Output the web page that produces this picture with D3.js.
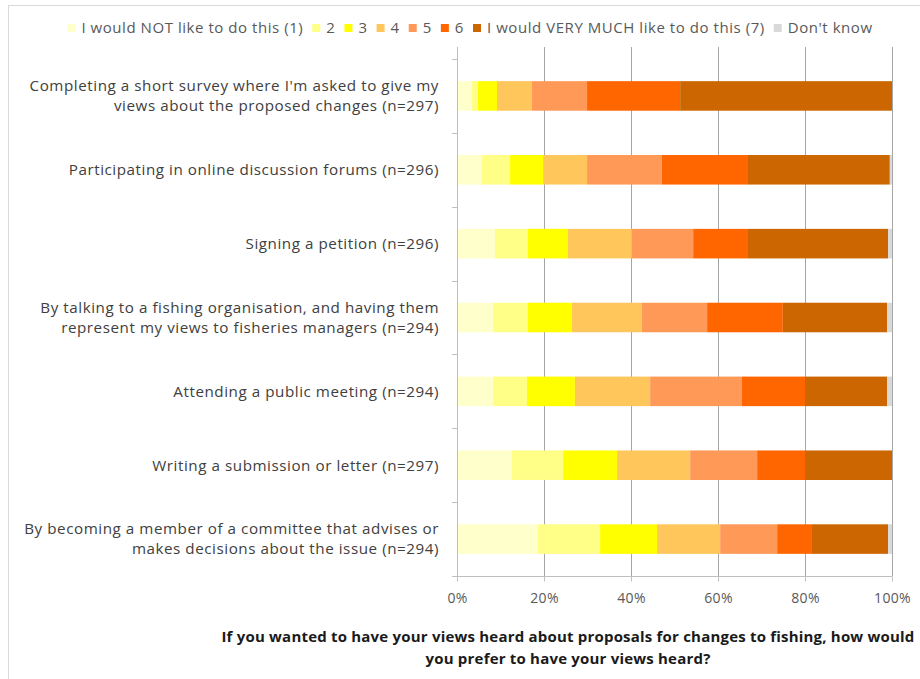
<!DOCTYPE html>
<html>
<head>
<meta charset="utf-8">
<script src="https://cdn.jsdelivr.net/npm/d3@7/dist/d3.min.js"></script>
<style>
  html, body { margin: 0; padding: 0; background: #ffffff; }
  svg { display: block; font-family: "Open Sans", "Lato", sans-serif; }
</style>
</head>
<body>
<svg id="chart" width="920" height="679"></svg>
<script>
// Survey items (top to bottom); "\n" marks a line break in the label
const categories = [
  "Completing a short survey where I'm asked to give my\nviews about the proposed changes (n=297)",
  "Participating in online discussion forums (n=296)",
  "Signing a petition (n=296)",
  "By talking to a fishing organisation, and having them\nrepresent my views to fisheries managers (n=294)",
  "Attending a public meeting (n=294)",
  "Writing a submission or letter (n=297)",
  "By becoming a member of a committee that advises or\nmakes decisions about the issue (n=294)"
];

const seriesNames = [
  "I would NOT like to do this (1)", "2", "3", "4", "5", "6",
  "I would VERY MUCH like to do this (7)", "Don't know"
];

// Share of respondents (%) for each response level, per item
const level1 = [3.4, 5.7, 8.7, 8.3, 8.3, 12.6, 18.6];
const level2 = [1.4, 6.5, 7.6, 8.0, 7.8, 11.8, 14.3];
const level3 = [4.4, 7.6, 9.2, 10.1, 11.0, 12.4, 13.1];
const level4 = [8.0, 10.1, 14.7, 16.1, 17.3, 16.8, 14.5];
const level5 = [12.7, 17.2, 14.1, 15.0, 21.1, 15.4, 13.1];
const level6 = [21.4, 19.6, 12.4, 17.4, 14.5, 11.0, 8.0];
const level7 = [48.7, 32.8, 32.4, 24.0, 18.9, 20.0, 17.5];
const dontKnow = [0, 0.5, 0.9, 1.1, 1.1, 0, 0.9];

const xTicks = [0, 20, 40, 60, 80, 100];

const axisTitle = [
  "If you wanted to have your views heard about proposals for changes to fishing, how would",
  "you prefer to have your views heard?"
];

const levels = [level1, level2, level3, level4, level5, level6, level7, dontKnow];
const colors = ["#FFFFCC", "#FFFF88", "#FFFF00", "#FFC65C", "#FF9957", "#FF6600", "#CC6600", "#D9D9D9"];

const rows = categories.map((c, i) => {
  const r = { category: c };
  seriesNames.forEach((s, k) => { r[s] = levels[k][i]; });
  return r;
});

const svg = d3.select("#chart");

// chart area border
svg.append("rect")
  .attr("x", 8.5).attr("y", 5.5)
  .attr("width", 940).attr("height", 700)
  .attr("fill", "#ffffff").attr("stroke", "#D9D9D9").attr("stroke-width", 1);

const plot = { left: 457, right: 892, top: 59, bottom: 576 };

const x = d3.scaleLinear().domain([0, 100]).range([plot.left, plot.right]);
const y = d3.scaleBand().domain(categories).range([plot.top, plot.bottom])
  .paddingInner(0.6).paddingOuter(0.3);

// vertical gridlines
svg.append("g").selectAll("line")
  .data(xTicks.filter(t => t > 0))
  .join("line")
  .attr("x1", d => Math.round(x(d)) + 0.5).attr("x2", d => Math.round(x(d)) + 0.5)
  .attr("y1", 47).attr("y2", plot.bottom)
  .attr("stroke", "#A6A6A6").attr("stroke-width", 1);

// stacked bars
const stack = d3.stack().keys(seriesNames);
const layers = stack(rows);

svg.append("g").selectAll("g")
  .data(layers)
  .join("g")
  .attr("fill", (d, i) => colors[i])
  .selectAll("rect")
  .data(d => d)
  .join("rect")
  .attr("x", d => x(d[0]))
  .attr("width", d => Math.max(0, x(d[1]) - x(d[0])))
  .attr("y", d => y(d.data.category))
  .attr("height", y.bandwidth());

// bottom value axis
const xAxis = d3.axisBottom(x)
  .tickValues(xTicks)
  .tickFormat(d => d + "%")
  .tickSize(5)
  .tickPadding(12);

const gx = svg.append("g")
  .attr("transform", `translate(0,${plot.bottom + 0.5})`)
  .call(xAxis);
gx.select(".domain").attr("stroke", "#BFBFBF").attr("d", `M${plot.left},0H${plot.right}`);
gx.selectAll(".tick line").attr("stroke", "#BFBFBF");
gx.selectAll(".tick text")
  .attr("fill", "#595959")
  .style("font-family", "'Open Sans', sans-serif")
  .style("font-size", "14px")
  .style("letter-spacing", "0.3px");

// left category axis line and boundary ticks
const catAxis = svg.append("g");
catAxis.append("line")
  .attr("x1", plot.left + 0.5).attr("x2", plot.left + 0.5)
  .attr("y1", 47).attr("y2", plot.bottom)
  .attr("stroke", "#BFBFBF");
const step = y.step();
catAxis.selectAll("line.tick")
  .data(d3.range(categories.length + 1))
  .join("line")
  .attr("class", "tick")
  .attr("x1", plot.left - 5).attr("x2", plot.left)
  .attr("y1", i => Math.round(plot.top + i * step) + 0.5)
  .attr("y2", i => Math.round(plot.top + i * step) + 0.5)
  .attr("stroke", "#BFBFBF");

// category labels
const labelG = svg.append("g")
  .attr("font-size", "15.2px")
  .attr("letter-spacing", "0.55px")
  .attr("fill", "#404040");
categories.forEach(c => {
  const lines = c.split("\n");
  const cy = y(c) + y.bandwidth() / 2;
  const t = labelG.append("text")
    .attr("text-anchor", "end");
  lines.forEach((ln, i) => {
    t.append("tspan")
      .attr("x", 439)
      .attr("y", cy + (i - (lines.length - 1) / 2) * 20)
      .attr("dy", "0.35em")
      .text(ln);
  });
});

// legend
const legend = svg.append("g")
  .attr("font-size", "15px")
  .attr("letter-spacing", "0.55px")
  .attr("fill", "#595959");
const legendItems = legend.selectAll("g")
  .data(seriesNames)
  .join("g");
legendItems.append("rect")
  .attr("width", 8).attr("height", 8)
  .attr("y", -4)
  .attr("fill", (d, i) => colors[i]);
legendItems.append("text")
  .attr("x", 14)
  .attr("dy", "0.35em")
  .text(d => d);
let lx = 0;
const offsets = [];
legendItems.each(function () {
  offsets.push(lx);
  lx += this.getBBox().width + 9;
});
const legendWidth = lx - 9;
const legendStart = 470 - legendWidth / 2;
legendItems.attr("transform", (d, i) => `translate(${legendStart + offsets[i]},28)`);

// value axis title
const title = svg.append("text")
  .attr("text-anchor", "middle")
  .attr("font-weight", "bold")
  .attr("font-size", "15px")
  .attr("letter-spacing", "0.2px")
  .attr("fill", "#1a1a1a");
axisTitle.forEach((ln, i) => {
  title.append("tspan")
    .attr("x", 568)
    .attr("y", 637 + i * 22)
    .attr("dy", "0.35em")
    .text(ln);
});
</script>
</body>
</html>
